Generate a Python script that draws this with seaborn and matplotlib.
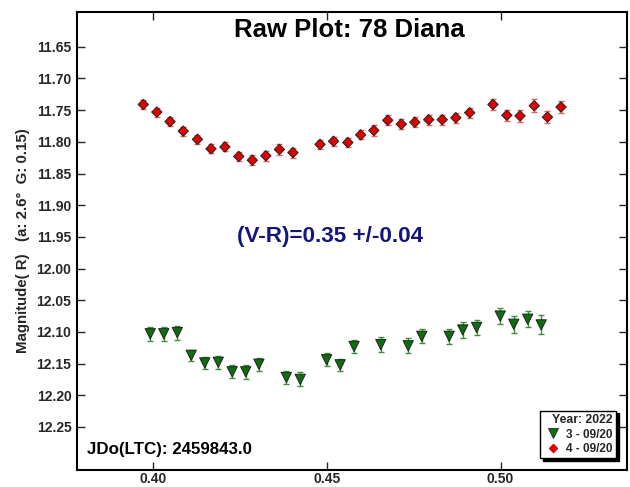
import matplotlib
matplotlib.use("Agg")
import matplotlib.pyplot as plt
import seaborn as sns
import numpy as np
import pandas as pd
from matplotlib.lines import Line2D

# ---- data ----
red_x = [0.3971, 0.4010, 0.4048, 0.4086, 0.4127, 0.4166, 0.4206, 0.4246, 0.4285, 0.4324,
         0.4363, 0.4402, 0.4480, 0.4519, 0.4560, 0.4597, 0.4635, 0.4675, 0.4714, 0.4753,
         0.4793, 0.4832, 0.4871, 0.4911, 0.4978, 0.5018, 0.5056, 0.5097, 0.5135, 0.5174]
red_y = [11.741, 11.753, 11.768, 11.783, 11.796, 11.811, 11.808, 11.823, 11.829, 11.822,
         11.812, 11.817, 11.804, 11.799, 11.801, 11.789, 11.782, 11.766, 11.772, 11.769,
         11.765, 11.765, 11.762, 11.754, 11.741, 11.758, 11.759, 11.743, 11.761, 11.745]
red_err = [0.007, 0.007, 0.007, 0.007, 0.007, 0.007, 0.007, 0.007, 0.008, 0.008,
           0.008, 0.008, 0.007, 0.007, 0.007, 0.007, 0.008, 0.008, 0.008, 0.008,
           0.008, 0.008, 0.008, 0.008, 0.009, 0.009, 0.009, 0.010, 0.010, 0.010]

green_x = [0.3991, 0.4030, 0.4069, 0.4109, 0.4148, 0.4187, 0.4227, 0.4266, 0.4304, 0.4383,
           0.4423, 0.4499, 0.4538, 0.4578, 0.4655, 0.4734, 0.4773, 0.4852, 0.4891, 0.4931,
           0.4999, 0.5038, 0.5078, 0.5117]
green_y = [12.103, 12.103, 12.101, 12.137, 12.149, 12.148, 12.163, 12.163, 12.151, 12.172,
           12.175, 12.144, 12.152, 12.123, 12.120, 12.122, 12.107, 12.107, 12.097, 12.093,
           12.075, 12.088, 12.080, 12.089]
green_err = [0.011, 0.011, 0.011, 0.009, 0.010, 0.010, 0.010, 0.011, 0.010, 0.011,
             0.011, 0.010, 0.010, 0.011, 0.012, 0.012, 0.011, 0.012, 0.012, 0.012,
             0.013, 0.013, 0.013, 0.015]

x_ticks = [0.40, 0.45, 0.50]
y_ticks = [11.65, 11.70, 11.75, 11.80, 11.85, 11.90, 11.95, 12.00, 12.05, 12.10, 12.15, 12.20, 12.25]

title = "Raw Plot: 78 Diana"
color_text = "(V-R)=0.35 +/-0.04"
jd_text = "JDo(LTC): 2459843.0"
ylabel = "Magnitude( R)   (a: 2.6°  G: 0.15)"
legend_title = "Year: 2022"
green_label = "3 - 09/20"
red_label = "4 - 09/20"

df = pd.concat([
    pd.DataFrame({"x": green_x, "y": green_y, "err": green_err, "series": green_label}),
    pd.DataFrame({"x": red_x, "y": red_y, "err": red_err, "series": red_label}),
], ignore_index=True)

sns.set_style("ticks")
plt.rcParams["font.family"] = ["Liberation Sans", "DejaVu Sans"]
plt.rcParams["font.weight"] = "bold"

fig = plt.figure(figsize=(6.3, 4.87), dpi=100)
ax = fig.add_axes([0.1222, 0.0349, 0.8730, 0.9405])

gcol = "#0c6e0c"
rcol = "#e00000"
ax.errorbar(green_x, green_y, yerr=green_err, fmt="none", ecolor="#3d8f3d",
            elinewidth=1.0, capsize=2.5, capthick=1.0, zorder=2)
ax.errorbar(red_x, red_y, yerr=red_err, fmt="none", ecolor="#e06060",
            elinewidth=1.0, capsize=2.5, capthick=1.0, zorder=2)

sns.scatterplot(data=df, x="x", y="y", hue="series", style="series",
                palette={green_label: gcol, red_label: rcol},
                markers={green_label: "v", red_label: "D"},
                size="series", sizes={green_label: 55, red_label: 28},
                edgecolor="#222222", linewidth=0.7, ax=ax, zorder=3, legend=False)

ax.set_xlim(0.378, 0.5364)
ax.set_ylim(12.318, 11.595)
ax.set_xticks(x_ticks)
ax.set_xticklabels([f"{v:.2f}" for v in x_ticks], fontsize=10, fontweight="bold")
ax.set_yticks(y_ticks)
ax.set_yticklabels([f"{v:.2f}" for v in y_ticks], fontsize=10, fontweight="bold")
ax.tick_params(axis="y", direction="in", length=6, width=1, left=True, right=True,
               labelright=False, pad=4)
ax.tick_params(axis="x", direction="in", length=6, width=1, top=True, bottom=True,
               labeltop=False, pad=1.5)
for s in ax.spines.values():
    s.set_linewidth(1.5)
    s.set_color("black")
ax.set_xlabel("")
ax.set_ylabel(ylabel, fontsize=10.8, fontweight="bold", labelpad=5)

ax.text(0.496, 0.961, title, transform=ax.transAxes, ha="center", va="center",
        fontsize=18.5, fontweight="bold", color="black")
ax.text(0.46, 0.509, color_text, transform=ax.transAxes, ha="center", va="center",
        fontsize=16.2, fontweight="bold", color="#15157f")
ax.text(0.018, 0.044, jd_text, transform=ax.transAxes, ha="left", va="center",
        fontsize=12.2, fontweight="bold", color="black")

handles = [
    Line2D([], [], marker="v", linestyle="none", markersize=7, markerfacecolor=gcol,
           markeredgecolor="#222222", markeredgewidth=0.6),
    Line2D([], [], marker="D", linestyle="none", markersize=4.5, markerfacecolor=rcol,
           markeredgecolor=rcol),
]
leg = ax.legend(handles, [green_label, red_label], title=legend_title,
                loc="lower right", bbox_to_anchor=(0.985, 0.02),
                fancybox=False, shadow={"color": "black", "alpha": 1.0}, framealpha=1,
                edgecolor="black", fontsize=8.5, title_fontsize=8.8,
                handlelength=1.6, handletextpad=0.3, borderpad=0.3,
                labelspacing=0.2, borderaxespad=0.2)
leg.get_title().set_fontweight("bold")
leg._legend_box.align = "right"
for t in leg.get_texts():
    t.set_fontweight("bold")
leg.get_frame().set_linewidth(1.0)

fig.savefig("out.png", dpi=100, facecolor="white")
